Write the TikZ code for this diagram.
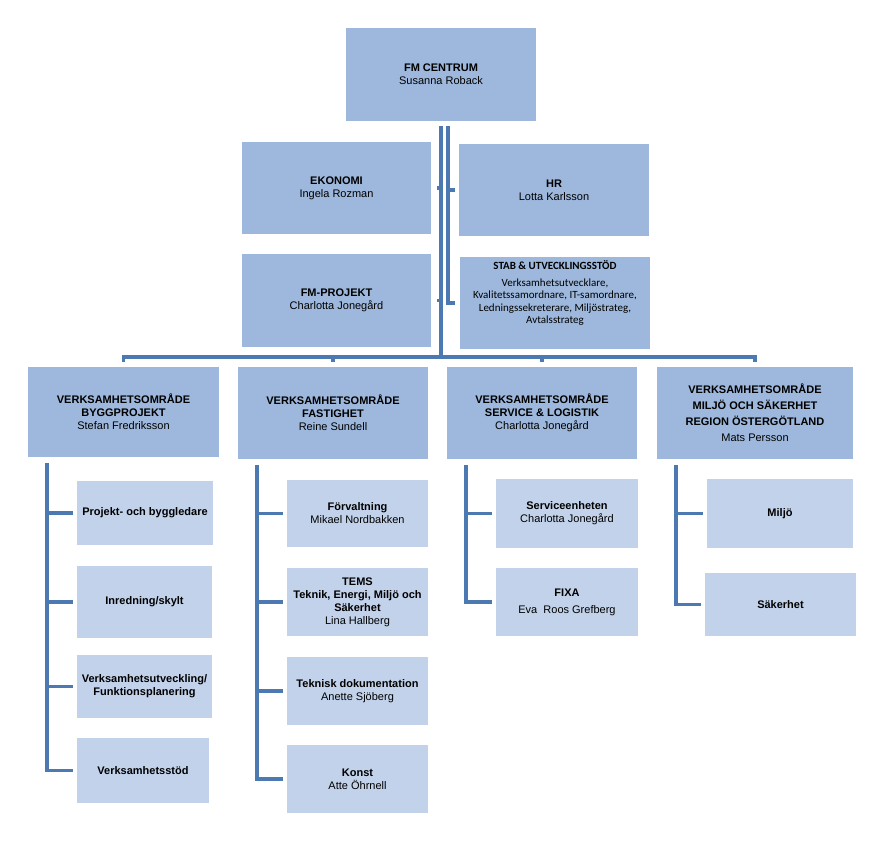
\documentclass[tikz,border=0pt]{standalone}
\usepackage{fontspec}
\setmainfont{Liberation Sans}
\newfontfamily\stabfont{Carlito}
\definecolor{areablue}{RGB}{157,184,220}
\definecolor{unitblue}{RGB}{193,210,234}
\definecolor{linkblue}{RGB}{76,121,178}
\tikzset{
  areabox/.style={fill=areablue,inner sep=0pt,minimum width=190bp,minimum height=92bp,align=center,font=\fontsize{11bp}{13bp}\selectfont},
  unitbox/.style={fill=unitblue,inner sep=0pt,minimum width=141bp,minimum height=68bp,align=center,font=\fontsize{11bp}{13bp}\selectfont},
  link/.style={draw=linkblue,line width=3.5bp,line join=miter},
}
\begin{document}
\begin{tikzpicture}[line join=bevel,]
\useasboundingbox (0bp,0bp) rectangle (879bp,841bp);
%%
\node (centrum) at (441bp,766.5bp) [areabox,minimum height=93bp] {\textbf{FM CENTRUM}\\Susanna Roback};
  \node (ekonomi) at (336.5bp,653bp) [areabox,minimum width=189bp] {\textbf{EKONOMI}\\Ingela Rozman};
  \node (hr) at (554bp,651bp) [areabox] {\textbf{HR}\\Lotta Karlsson};
  \node (fmprojekt) at (336.5bp,540.5bp) [areabox,minimum width=189bp,minimum height=93bp] {\textbf{FM-PROJEKT}\\Charlotta Jonegård};
  \node (stab) at (555bp,538bp) [areabox] {};
  \node (stabtext) at (555bp,548bp) [align=center,inner sep=0pt,font=\stabfont\fontsize{11bp}{12.3bp}\selectfont] {\textbf{STAB \& UTVECKLINGSSTÖD}\\[4.5bp]Verksamhetsutvecklare,\\Kvalitetssamordnare, IT-samordnare,\\Ledningssekreterare, Miljöstrateg,\\Avtalsstrateg};
  \node (bygg) at (123.5bp,429bp) [areabox,minimum width=191bp,minimum height=90bp] {\textbf{VERKSAMHETSOMRÅDE}\\\textbf{BYGGPROJEKT}\\Stefan Fredriksson};
  \node (fastighet) at (333bp,428bp) [areabox] {\textbf{VERKSAMHETSOMRÅDE}\\\textbf{FASTIGHET}\\Reine Sundell};
  \node (service) at (542bp,428bp) [areabox] {\textbf{VERKSAMHETSOMRÅDE}\\\textbf{SERVICE \& LOGISTIK}\\Charlotta Jonegård};
  \node (miljosak) at (755bp,428bp) [areabox,minimum width=196bp] {\textbf{VERKSAMHETSOMRÅDE}\\[3bp]\textbf{MILJÖ OCH SÄKERHET}\\[3bp]\textbf{REGION ÖSTERGÖTLAND}\\[3bp]Mats Persson};
%
  \node (projektled) at (145bp,328bp) [unitbox,minimum width=136bp,minimum height=64bp] {\textbf{Projekt- och byggledare}};
  \node (inredning) at (144.5bp,239bp) [unitbox,minimum width=135bp,minimum height=72bp] {\textbf{Inredning/skylt}};
  \node (verkutv) at (144.5bp,154.5bp) [unitbox,minimum width=135bp,minimum height=63bp] {\textbf{Verksamhetsutveckling/}\\\textbf{Funktionsplanering}};
  \node (verkstod) at (143bp,70.5bp) [unitbox,minimum width=132bp,minimum height=65bp] {\textbf{Verksamhetsstöd}};
  \node (forvaltning) at (357.5bp,327.5bp) [unitbox,minimum height=67bp] {\textbf{Förvaltning}\\Mikael Nordbakken};
  \node (tems) at (357.5bp,239bp) [unitbox] {\textbf{TEMS}\\\textbf{Teknik, Energi, Miljö och}\\\textbf{Säkerhet}\\Lina Hallberg};
  \node (tekdok) at (357.5bp,150bp) [unitbox] {\textbf{Teknisk dokumentation}\\Anette Sjöberg};
  \node (konst) at (357.5bp,62bp) [unitbox] {\textbf{Konst}\\Atte Öhrnell};
  \node (serviceenh) at (567bp,327.5bp) [unitbox,minimum width=142bp,minimum height=69bp] {\textbf{Serviceenheten}\\Charlotta Jonegård};
  \node (fixa) at (567bp,239bp) [unitbox,minimum width=142bp] {\textbf{FIXA}\\[4bp]Eva~ Roos Grefberg};
  \node (miljo) at (780bp,327.5bp) [unitbox,minimum width=146bp,minimum height=69bp] {\textbf{Miljö}};
  \node (sakerhet) at (780.5bp,236.5bp) [unitbox,minimum width=151bp,minimum height=63bp] {\textbf{Säkerhet}};
%
\coordinate (bar) at (441bp,484bp);
  \coordinate (trunkb) at (448bp,715bp);
  \coordinate (byggline) at ([xshift=19bp,yshift=-6bp]bygg.south west);
  \coordinate (fastline) at ([xshift=19bp,yshift=-6bp]fastighet.south west);
  \coordinate (serviceline) at ([xshift=19bp,yshift=-6bp]service.south west);
  \coordinate (miljoline) at ([xshift=19bp,yshift=-6bp]miljosak.south west);
%%
\draw [link,shorten <=5bp] (centrum.south) -- (bar);
  \draw [link,shorten <=6bp] (ekonomi.east) -- (ekonomi.east -| bar);
  \draw [link,shorten <=6bp] (fmprojekt.east) -- (fmprojekt.east -| bar);
  \draw [link,shorten >=5bp] (trunkb) -- (trunkb |- stab.west) -- (stab.west);
  \draw [link,shorten >=4bp] (trunkb |- hr.west) -- (hr.west);
  \draw [link,shorten <=5bp,shorten >=5bp] (bygg.north) -- (bygg.north |- bar) -- (miljosak.north |- bar) -- (miljosak.north);
  \draw [link,shorten >=5bp] (fastighet.north |- bar) -- (fastighet.north);
  \draw [link,shorten >=5bp] (service.north |- bar) -- (service.north);
%
  \draw [link,shorten >=4bp] (byggline) |- (verkstod.west);
  \draw [link,shorten >=4bp] (byggline |- projektled.west) -- (projektled.west);
  \draw [link,shorten >=4bp] (byggline |- inredning.west) -- (inredning.west);
  \draw [link,shorten >=4bp] (byggline |- verkutv.west) -- (verkutv.west);
  \draw [link,shorten >=4bp] (fastline) |- (konst.west);
  \draw [link,shorten >=4bp] (fastline |- forvaltning.west) -- (forvaltning.west);
  \draw [link,shorten >=4bp] (fastline |- tems.west) -- (tems.west);
  \draw [link,shorten >=4bp] (fastline |- tekdok.west) -- (tekdok.west);
  \draw [link,shorten >=4bp] (serviceline) |- (fixa.west);
  \draw [link,shorten >=4bp] (serviceline |- serviceenh.west) -- (serviceenh.west);
  \draw [link,shorten >=4bp] (miljoline) |- (sakerhet.west);
  \draw [link,shorten >=4bp] (miljoline |- miljo.west) -- (miljo.west);
%
\end{tikzpicture}
\end{document}
